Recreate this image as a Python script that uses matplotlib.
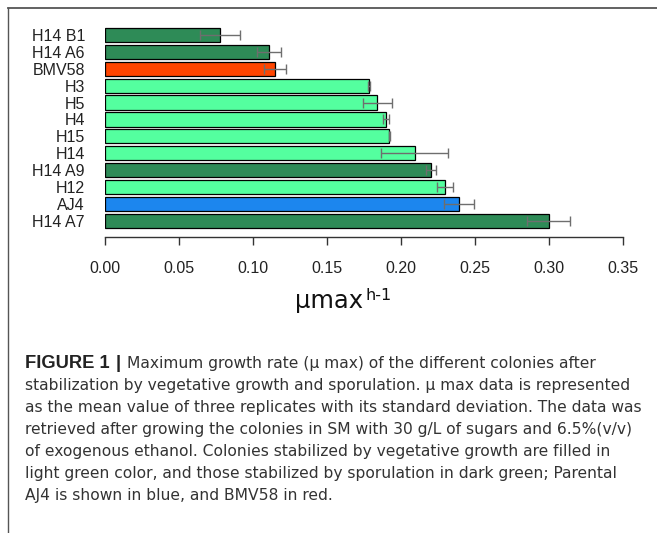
import matplotlib
matplotlib.use("Agg")
import matplotlib.pyplot as plt
from matplotlib.lines import Line2D

# Data (top to bottom as shown)
colonies = ["H14 B1", "H14 A6", "BMV58", "H3", "H5", "H4", "H15", "H14", "H14 A9", "H12", "AJ4", "H14 A7"]
mu_max = [0.0775, 0.1108, 0.1149, 0.1784, 0.1838, 0.1901, 0.1921, 0.2092, 0.2205, 0.2297, 0.2394, 0.2998]
sd = [0.0134, 0.0081, 0.0076, 0.0005, 0.0098, 0.0020, 0.0004, 0.0228, 0.0034, 0.0051, 0.0101, 0.0145]
group = ["spor", "spor", "bmv", "veg", "veg", "veg", "veg", "veg", "spor", "veg", "aj4", "spor"]
xticks = [0.00, 0.05, 0.10, 0.15, 0.20, 0.25, 0.30, 0.35]

palette = {"spor": "#2E8B57", "veg": "#54FF9F", "bmv": "#FF4500", "aj4": "#1C86EE"}

W, H = 657, 533
fig = plt.figure(figsize=(W / 100, H / 100), dpi=100)

# axes in pixel coords
left_px, right_px = 105, 623
bottom_px, top_px = 237.3, 20
ax = fig.add_axes([left_px / W, 1 - bottom_px / H, (right_px - left_px) / W, (bottom_px - top_px) / H])

n = len(colonies)
ypos = [n - 1 - i for i in range(n)]
colors = [palette[g] for g in group]
ax.barh(ypos, mu_max, height=0.83, color=colors, edgecolor="black", linewidth=0.9, zorder=2)
ax.errorbar(mu_max, ypos, xerr=sd, fmt="none", ecolor="#6e6e6e", elinewidth=1.0,
            capsize=3.8, capthick=1.0, zorder=3, clip_on=False)

ax.set_xlim(0, 0.35)
ax.set_ylim(-0.95, 11.867)
ax.set_yticks(ypos)
ax.set_yticklabels(colonies, family="Liberation Sans", fontsize=11.5, color="#222222")
ax.set_xticks(xticks)
ax.set_xticklabels([f"{v:.2f}" for v in xticks], family="Liberation Sans", fontsize=11.5, color="#222222")
ax.tick_params(axis="y", length=0, pad=14.4)
ax.tick_params(axis="x", length=6, width=1.0, color="#333333", pad=11)
for s in ["top", "right", "left"]:
    ax.spines[s].set_visible(False)
ax.spines["bottom"].set_color("#333333")
ax.spines["bottom"].set_linewidth(1.0)

renderer = fig.canvas.get_renderer()

# x label: "μmax" with superscript "h-1"
tl = fig.text(295 / W, 1 - 308 / H, "μmax", family="DejaVu Sans", fontsize=17.5,
              ha="left", va="baseline", color="#111111")
bbl = tl.get_window_extent(renderer)
fig.text((bbl.x1 + 2) / W, 1 - 300 / H, "h-1", family="DejaVu Sans", fontsize=11.5,
         ha="left", va="baseline", color="#111111")

# frame lines
fig.add_artist(Line2D([8 / W, 1.0], [1 - 8 / H, 1 - 8 / H], color="#555555", lw=1.3, transform=fig.transFigure))
fig.add_artist(Line2D([8 / W, 8 / W], [1 - 8 / H, 0], color="#555555", lw=1.0, transform=fig.transFigure))

# caption
cap_font = "DejaVu Sans"
cap_size = 11.15
cap_color = "#333333"
x0 = 25
baselines = [367.7, 389.7, 411.7, 433.7, 455.7, 477.7, 499.7]
lines = [
    "Maximum growth rate (μ max) of the different colonies after",
    "stabilization by vegetative growth and sporulation. μ max data is represented",
    "as the mean value of three replicates with its standard deviation. The data was",
    "retrieved after growing the colonies in SM with 30 g/L of sugars and 6.5%(v/v)",
    "of exogenous ethanol. Colonies stabilized by vegetative growth are filled in",
    "light green color, and those stabilized by sporulation in dark green; Parental",
    "AJ4 is shown in blue, and BMV58 in red.",
]
fig.text(x0 / W, 1 - baselines[0] / H, "FIGURE 1", family="Liberation Sans", weight="bold",
         fontsize=13.2, color="#222222", va="baseline")
fig.text(115.5 / W, 1 - baselines[0] / H, "|", family="Liberation Sans", weight="bold",
         fontsize=13.2, color="#222222", va="baseline")
fig.text(127 / W, 1 - baselines[0] / H, lines[0], family=cap_font, fontsize=cap_size,
         color=cap_color, va="baseline")
for ln, yb in zip(lines[1:], baselines[1:]):
    fig.text(x0 / W, 1 - yb / H, ln, family=cap_font, fontsize=cap_size, color=cap_color, va="baseline")

fig.savefig("out.png", dpi=100)
